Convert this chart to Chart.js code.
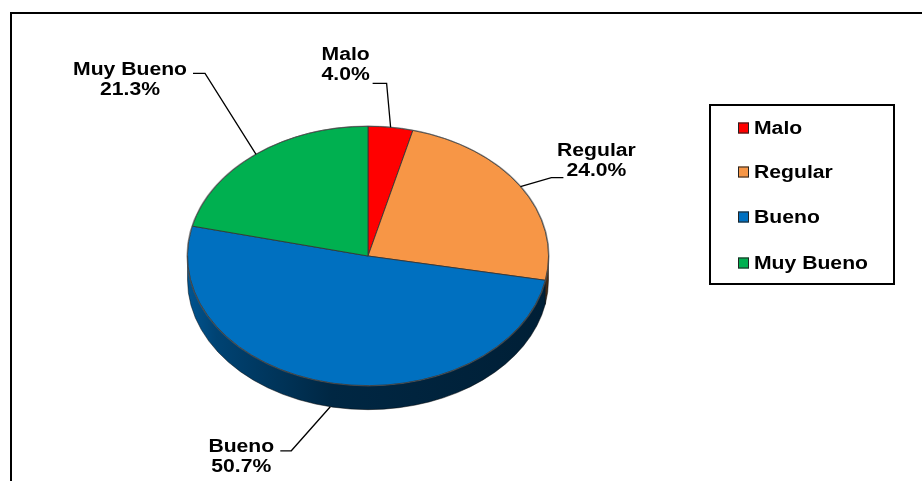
<!DOCTYPE html>
<html>
<head>
<meta charset="utf-8">
<script src="https://cdn.jsdelivr.net/npm/chart.js@4/dist/chart.umd.min.js"></script>
<style>
html,body{margin:0;padding:0;background:#fff;}
#wrap{width:922px;height:481px;position:relative;}
</style>
</head>
<body>
<div id="wrap"><canvas id="c" width="922" height="481"></canvas></div>
<script>
// ---- data ----
const categories = ['Malo', 'Regular', 'Bueno', 'Muy Bueno'];
const percentages = [4.0, 24.0, 50.7, 21.3];
const sliceColors = ['#FF0000', '#F79646', '#0070C0', '#00B050'];

// ---- layout / style ----
const TILT = 130 / 181;      // vertical squash of the pie top
const DEPTH = 24;            // thickness of the 3D side (px)
const FONT = 'bold 18px "Liberation Sans", Arial, sans-serif';
const STRETCH = 1.175;       // horizontal stretch of the text
// leader layout per slice: elbow offset from anchor, horizontal run, text centre offset from run end, first baseline offset
const leaderLayout = [
  {ex: -4,  ey: -44, run: -14, tx: -27, ty: -23},
  {ex: 31,  ey: -9,  run: 12,  tx: 33,  ty: -22},
  {ex: -39, ey: 44,  run: -11, tx: -39, ty: 1},
  {ex: -51, ey: -81, run: -12, tx: -63, ty: 2}
];
const legendBox = {x: 710, y: 105, w: 184, h: 179, sq: 738, text: 754, rows: [128, 172, 217, 263]};

function mix(hex, t) {
  const n = parseInt(hex.slice(1), 16);
  const r = (n >> 16) & 255, g = (n >> 8) & 255, b = n & 255;
  return 'rgb(' + Math.round(r * (1 - t)) + ',' + Math.round(g * (1 - t)) + ',' + Math.round(b * (1 - t)) + ')';
}
function stretchedText(ctx, txt, x, y, align) {
  ctx.save();
  ctx.translate(x, y);
  ctx.scale(STRETCH, 1);
  ctx.textAlign = align;
  ctx.fillText(txt, 0, 0);
  ctx.restore();
}

const framePlugin = {
  id: 'frame',
  beforeDraw(chart) {
    const ctx = chart.ctx;
    ctx.save();
    ctx.fillStyle = '#fff';
    ctx.fillRect(0, 0, chart.width, chart.height);
    ctx.strokeStyle = '#000';
    ctx.lineWidth = 2;
    ctx.strokeRect(11, 13, chart.width + 20, chart.height + 20);
    ctx.restore();
  }
};

const pie3dPlugin = {
  id: 'pie3d',
  beforeDatasetsDraw(chart) {
    const ctx = chart.ctx;
    const arcs = chart.getDatasetMeta(0).data;
    if (!arcs.length) return;
    const cx = arcs[0].x, cy = arcs[0].y, R = arcs[0].outerRadius;
    const D = DEPTH / TILT;
    ctx.save();
    ctx.translate(cx, cy);
    ctx.scale(1, TILT);
    ctx.translate(-cx, -cy);
    arcs.forEach((a, i) => {
      const a1 = Math.max(a.startAngle, 0), a2 = Math.min(a.endAngle, Math.PI);
      if (a1 >= a2) return;
      const col = chart.data.datasets[0].backgroundColor[i];
      const g = ctx.createLinearGradient(cx - R, 0, cx + R, 0);
      g.addColorStop(0, mix(col, 0.25));
      g.addColorStop(0.08, mix(col, 0.4));
      g.addColorStop(0.4, mix(col, 0.65));
      g.addColorStop(1, mix(col, 0.72));
      ctx.beginPath();
      ctx.arc(cx, cy, R, a1, a2);
      ctx.arc(cx, cy + D, R, a2, a1, true);
      ctx.closePath();
      ctx.fillStyle = g;
      ctx.fill();
      ctx.lineWidth = 1;
      ctx.strokeStyle = 'rgba(0,0,0,0.55)';
      ctx.stroke();
    });
    // transform stays active for the dataset drawing
  },
  afterDatasetsDraw(chart) {
    const ctx = chart.ctx;
    const arcs = chart.getDatasetMeta(0).data;
    if (!arcs.length) return;
    const cx = arcs[0].x, cy = arcs[0].y, R = arcs[0].outerRadius;
    ctx.beginPath();
    ctx.arc(cx, cy, R + 0.5, 0, Math.PI * 2);
    ctx.lineWidth = 1.2;
    ctx.strokeStyle = 'rgba(90,90,90,0.6)';
    ctx.stroke();
    ctx.restore();
  }
};

const labelPlugin = {
  id: 'outLabels',
  afterDraw(chart) {
    const ctx = chart.ctx;
    const arcs = chart.getDatasetMeta(0).data;
    const vals = chart.data.datasets[0].data;
    const total = vals.reduce((s, v) => s + v, 0);
    ctx.save();
    ctx.font = FONT;
    ctx.fillStyle = '#000';
    ctx.strokeStyle = '#000';
    ctx.lineWidth = 1.3;
    arcs.forEach((a, i) => {
      const m = (a.startAngle + a.endAngle) / 2;
      const ax = a.x + a.outerRadius * Math.cos(m);
      let ay = a.y + a.outerRadius * TILT * Math.sin(m);
      if (Math.sin(m) > 0) ay += DEPTH;
      const L = leaderLayout[i];
      const exx = ax + L.ex, eyy = ay + L.ey;
      const endX = exx + L.run;
      ctx.beginPath();
      ctx.moveTo(ax, ay);
      ctx.lineTo(exx, eyy);
      ctx.lineTo(endX, eyy);
      ctx.stroke();
      const tx = endX + L.tx, ty = eyy + L.ty;
      stretchedText(ctx, chart.data.labels[i], tx, ty, 'center');
      stretchedText(ctx, (vals[i] / total * 100).toFixed(1) + '%', tx, ty + 20, 'center');
    });
    ctx.restore();
  }
};

const legendPlugin = {
  id: 'boxLegend',
  afterDraw(chart) {
    const ctx = chart.ctx;
    const b = legendBox;
    ctx.save();
    ctx.strokeStyle = '#000';
    ctx.lineWidth = 2;
    ctx.strokeRect(b.x, b.y, b.w, b.h);
    ctx.font = FONT;
    ctx.textBaseline = 'middle';
    ctx.fillStyle = '#000';
    chart.data.labels.forEach((lab, i) => {
      const y = b.rows[i];
      ctx.fillStyle = chart.data.datasets[0].backgroundColor[i];
      ctx.fillRect(b.sq, y - 5.5, 11, 11);
      ctx.lineWidth = 1;
      ctx.strokeStyle = '#222';
      ctx.strokeRect(b.sq + 0.5, y - 5, 10, 10);
      ctx.fillStyle = '#000';
      stretchedText(ctx, lab, b.text, y + 1, 'left');
    });
    ctx.restore();
  }
};

new Chart(document.getElementById('c'), {
  type: 'pie',
  data: {
    labels: categories,
    datasets: [{
      data: percentages,
      backgroundColor: sliceColors,
      borderColor: '#333',
      borderWidth: 1
    }]
  },
  options: {
    responsive: false,
    animation: false,
    events: [],
    layout: {padding: {left: 187, right: 373, top: 75, bottom: 44}},
    plugins: {
      legend: {display: false},
      tooltip: {enabled: false},
      title: {display: false}
    }
  },
  plugins: [framePlugin, pie3dPlugin, labelPlugin, legendPlugin]
});
</script>
</body>
</html>
